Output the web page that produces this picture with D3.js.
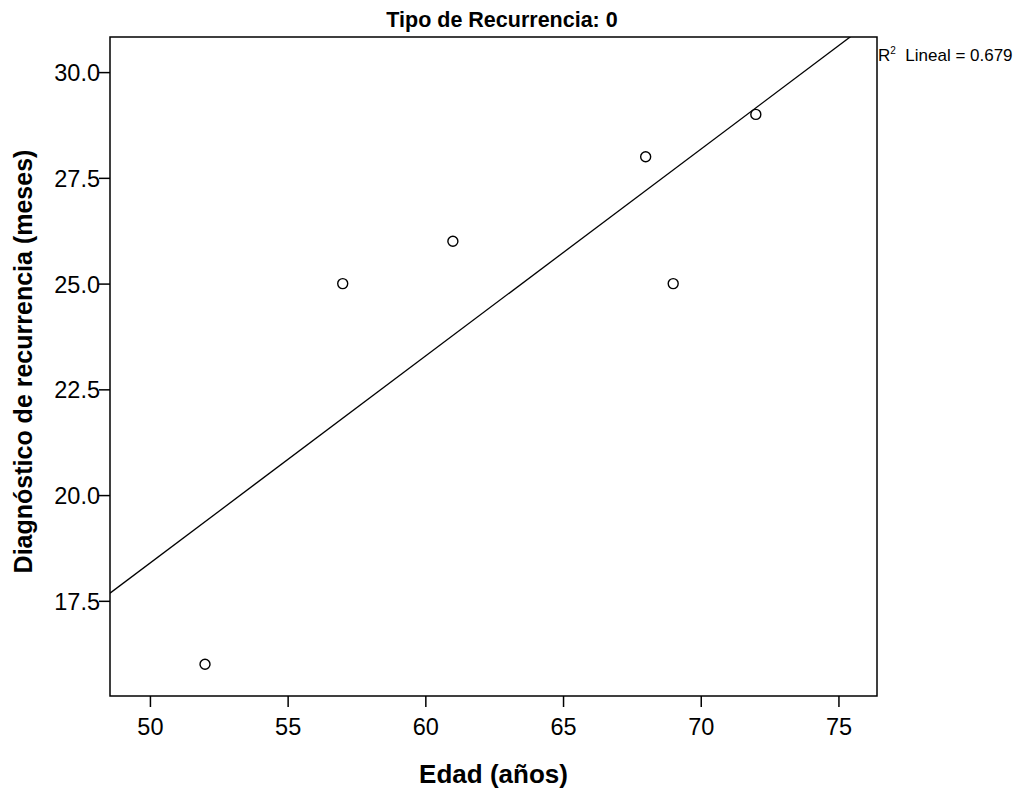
<!DOCTYPE html>
<html>
<head>
<meta charset="utf-8">
<script src="https://cdn.jsdelivr.net/npm/d3@7"></script>
<style>
  body { margin: 0; background: #fff; }
  text { font-family: "Liberation Sans", Arial, sans-serif; fill: #000; }
</style>
</head>
<body>
<svg id="chart"></svg>
<script>
// data
var edad = [52, 57, 61, 68, 69, 72]
var meses = [16, 25, 26, 28, 25, 29]
var xTicks = [50, 55, 60, 65, 70, 75]
var yTicks = [17.5, 20.0, 22.5, 25.0, 27.5, 30.0]
var xDomain = [48.55, 76.4]
var yDomain = [15.25, 30.83]

var screen = {width: 1018, height: 788}
var margins = {top: 37, bottom: 92, left: 110, right: 141}
var graph = {
    width: screen.width - margins.left - margins.right,
    height: screen.height - margins.top - margins.bottom
}

var svg = d3.select("#chart")
    .attr("width", screen.width)
    .attr("height", screen.height)

var xScale = d3.scaleLinear().domain(xDomain).range([0, graph.width])
var yScale = d3.scaleLinear().domain(yDomain).range([graph.height, 0])

// least squares fit
var points = edad.map(function(x, i) { return {x: x, y: meses[i]} })
var mx = d3.mean(edad), my = d3.mean(meses)
var sxy = d3.sum(points, function(p) { return (p.x - mx) * (p.y - my) })
var sxx = d3.sum(points, function(p) { return (p.x - mx) * (p.x - mx) })
var syy = d3.sum(points, function(p) { return (p.y - my) * (p.y - my) })
var slope = sxy / sxx
var intercept = my - slope * mx
var r2 = (sxy * sxy) / (sxx * syy)

var g = svg.append("g")
    .attr("transform", "translate(" + margins.left + "," + margins.top + ")")

g.append("clipPath").attr("id", "clip")
  .append("rect")
    .attr("width", graph.width)
    .attr("height", graph.height)

var lineGenerator = d3.line()
    .x(function(d) { return xScale(d) })
    .y(function(d) { return yScale(intercept + slope * d) })

g.append("path")
    .datum(xDomain)
    .attr("clip-path", "url(#clip)")
    .attr("d", lineGenerator)
    .attr("fill", "none")
    .attr("stroke", "#000")
    .attr("stroke-width", 1.3)

g.selectAll("circle")
    .data(points)
    .enter()
    .append("circle")
    .attr("cx", function(p) { return xScale(p.x) })
    .attr("cy", function(p) { return yScale(p.y) })
    .attr("r", 5)
    .attr("fill", "#fff")
    .attr("stroke", "#000")
    .attr("stroke-width", 1.4)

// axes
var xAxis = d3.axisBottom(xScale).tickValues(xTicks).tickSize(11).tickSizeOuter(0)
    .tickFormat(d3.format("d"))
var yAxis = d3.axisLeft(yScale).tickValues(yTicks).tickSize(11).tickSizeOuter(0)
    .tickFormat(d3.format(".1f"))

var xg = g.append("g")
    .attr("transform", "translate(0," + graph.height + ")")
    .call(xAxis)
var yg = g.append("g").call(yAxis)

;[xg, yg].forEach(function(a) {
    a.select(".domain").remove()
    a.selectAll("line").attr("stroke", "#000").attr("stroke-width", 1.5)
    a.selectAll("text").style("font-size", "23.5px")
        .style("font-family", "Liberation Sans, Arial, sans-serif")
})
xg.selectAll("text").attr("dy", "1.08em")
yg.selectAll("text").attr("x", -10).attr("dy", "0.36em")

g.append("rect")
    .attr("width", graph.width)
    .attr("height", graph.height)
    .attr("fill", "none")
    .attr("stroke", "#000")
    .attr("stroke-width", 1.5)

// titles
svg.append("text")
    .attr("x", 502).attr("y", 27)
    .attr("text-anchor", "middle")
    .style("font-size", "21.5px").style("font-weight", "bold")
    .text("Tipo de Recurrencia: 0")

svg.append("text")
    .attr("x", margins.left + graph.width / 2).attr("y", 783)
    .attr("text-anchor", "middle")
    .style("font-size", "26px").style("font-weight", "bold")
    .text("Edad (años)")

svg.append("text")
    .attr("transform", "translate(32," + (margins.top + graph.height / 2 - 5) + ") rotate(-90)")
    .attr("text-anchor", "middle")
    .style("font-size", "25px").style("font-weight", "bold")
    .text("Diagnóstico de recurrencia (meses)")

var r2Text = svg.append("text")
    .attr("x", 878).attr("y", 61)
    .style("font-size", "17px")
r2Text.append("tspan").text("R")
r2Text.append("tspan").attr("dy", -7).style("font-size", "10px").text("2")
r2Text.append("tspan").attr("dy", 7).text("\u00a0 Lineal = " + d3.format(".3f")(r2))
</script>
</body>
</html>
